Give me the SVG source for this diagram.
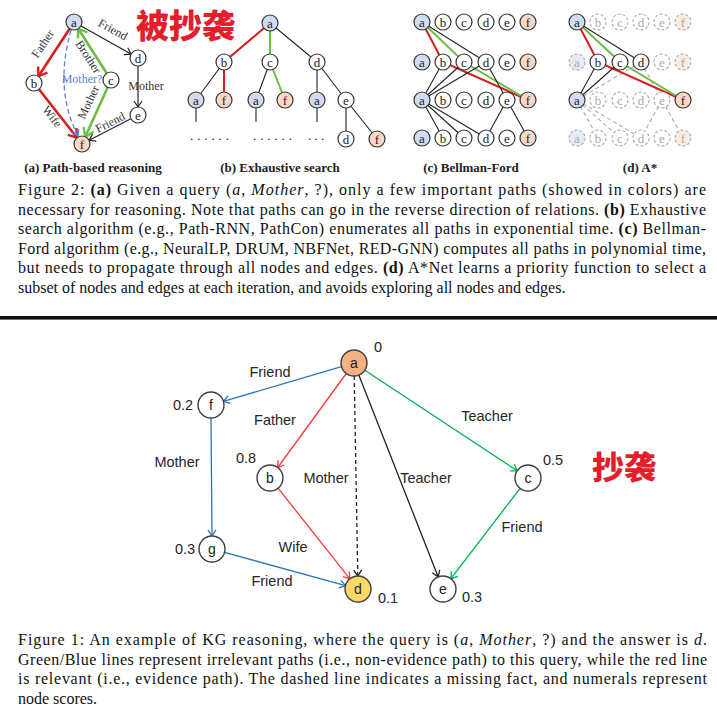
<svg xmlns="http://www.w3.org/2000/svg" width="717" height="719" viewBox="0 0 717 719">
<style>
.n{stroke:#333;stroke-width:1.2;fill:#fff}
.na{fill:#d3dbf0}
.nf{fill:#f9d9c6}
.g{stroke:#aaa;stroke-width:1.1;stroke-dasharray:3 2;fill:#fff}
.ga{fill:#e6ebf7}
.gf{fill:#fcebe0}
.lt{font-family:"Liberation Serif",serif;font-size:13px;text-anchor:middle;fill:#222}
.gt{font-family:"Liberation Serif",serif;font-size:13px;text-anchor:middle;fill:#aaa}
.el{font-family:"Liberation Serif",serif;font-size:12px;text-anchor:middle;fill:#333}
.pc{font-family:"Liberation Serif",serif;font-size:13px;font-weight:bold;text-anchor:middle;fill:#222}
.cap{font-family:"Liberation Serif",serif;font-size:16px;fill:#111}
.red{stroke:#d81e1e;stroke-width:2.6;fill:none}
.grn{stroke:#6cbd45;stroke-width:2.6;fill:none}
.blk{stroke:#222;stroke-width:1.2;fill:none}
.tr{stroke:#d81e1e;stroke-width:2;fill:none}
.tg{stroke:#6cbd45;stroke-width:2;fill:none}
.tk{stroke:#222;stroke-width:1.1;fill:none}
.td{stroke:#aaa;stroke-width:1.1;stroke-dasharray:4 3;fill:none}
.bn{stroke:#404040;stroke-width:1.4;fill:#fff}
.bt{font-family:"Liberation Sans",sans-serif;font-size:14px;text-anchor:middle;fill:#222}
.bl{font-family:"Liberation Sans",sans-serif;font-size:14.5px;text-anchor:middle;fill:#262626}
.wm{font-family:"Noto Sans CJK SC",sans-serif;font-weight:900;fill:#e41e2b;stroke:#fff;stroke-width:1.5;paint-order:stroke}
</style>
<defs>
<marker id="mR" viewBox="-10 -7 12 14" markerWidth="12" markerHeight="14" refX="0" refY="0" orient="auto" markerUnits="userSpaceOnUse"><path d="M-8,-5.5 L0,0 L-8,5.5" fill="none" stroke="#d81e1e" stroke-width="2.4"/></marker>
<marker id="mG" viewBox="-10 -7 12 14" markerWidth="12" markerHeight="14" refX="0" refY="0" orient="auto" markerUnits="userSpaceOnUse"><path d="M-8,-5.5 L0,0 L-8,5.5" fill="none" stroke="#6cbd45" stroke-width="2.4"/></marker>
<marker id="mK" viewBox="-8 -5 10 10" markerWidth="10" markerHeight="10" refX="0" refY="0" orient="auto" markerUnits="userSpaceOnUse"><path d="M-6,-4 L0,0 L-6,4" fill="none" stroke="#222" stroke-width="1.2"/></marker>
<marker id="mB" viewBox="-8 -5 10 10" markerWidth="10" markerHeight="10" refX="0" refY="0" orient="auto" markerUnits="userSpaceOnUse"><path d="M-6,-4 L0,0 L-6,4" fill="none" stroke="#5b7fd6" stroke-width="1.2"/></marker>
<marker id="bB" viewBox="-8 -5 10 10" markerWidth="10" markerHeight="10" refX="0" refY="0" orient="auto" markerUnits="userSpaceOnUse"><path d="M-6,-4 L0,0 L-6,4" fill="none" stroke="#2e75b6" stroke-width="1.3"/></marker>
<marker id="bR" viewBox="-8 -5 10 10" markerWidth="10" markerHeight="10" refX="0" refY="0" orient="auto" markerUnits="userSpaceOnUse"><path d="M-6,-4 L0,0 L-6,4" fill="none" stroke="#f03c3c" stroke-width="1.3"/></marker>
<marker id="bG" viewBox="-8 -5 10 10" markerWidth="10" markerHeight="10" refX="0" refY="0" orient="auto" markerUnits="userSpaceOnUse"><path d="M-6,-4 L0,0 L-6,4" fill="none" stroke="#00b050" stroke-width="1.3"/></marker>
<marker id="bK" viewBox="-8 -5 10 10" markerWidth="10" markerHeight="10" refX="0" refY="0" orient="auto" markerUnits="userSpaceOnUse"><path d="M-6,-4 L0,0 L-6,4" fill="none" stroke="#222" stroke-width="1.3"/></marker>
</defs>
<rect width="717" height="719" fill="#fff"/>

<!-- ===== Panel (a) ===== -->
<g id="pa-connectors">
<path class="red" d="M69.6,28.7 L38.4,76.3" marker-end="url(#mR)"/>
<path class="red" d="M39,89.3 L77,137.7" marker-end="url(#mR)"/>
<path class="grn" d="M106.7,73.3 L78.3,28.7" marker-end="url(#mG)"/>
<path class="grn" d="M107.7,87.3 L85.3,136.7" marker-end="url(#mG)"/>
<path class="blk" d="M81,25.9 L131,54.1" marker-end="url(#mK)"/>
<path class="blk" d="M138,66 L138,107" marker-end="url(#mK)"/>
<path class="blk" d="M130.9,118.7 L89.1,140.3" marker-end="url(#mK)"/>
<path d="M71,30 Q54,90 78,136" fill="none" stroke="#5b7fd6" stroke-width="1.3" stroke-dasharray="5 3" marker-end="url(#mB)"/>
<text class="el" transform="translate(46,46) rotate(-56)">Father</text>
<text class="el" transform="translate(49,119) rotate(52)">Wife</text>
<text class="el" transform="translate(85,59) rotate(57)">Brother</text>
<text class="el" transform="translate(92,104) rotate(-65)">Mother</text>
<text class="el" transform="translate(111,33) rotate(29)">Friend</text>
<text class="el" x="146" y="90" text-anchor="start">Mother</text>
<text class="el" transform="translate(112,126) rotate(-27)">Friend</text>
<text class="el" x="82" y="83" fill="#5b7fd6" style="fill:#5b7fd6">Mother?</text>
</g>
<g id="pa-a"><circle class="n na" cx="74" cy="22" r="8"/><text class="lt" x="74" y="26.5">a</text></g>
<g id="pa-b"><circle class="n" cx="34" cy="83" r="8"/><text class="lt" x="34" y="87.5">b</text></g>
<g id="pa-c"><circle class="n" cx="111" cy="80" r="8"/><text class="lt" x="111" y="84.5">c</text></g>
<g id="pa-d"><circle class="n" cx="138" cy="58" r="8"/><text class="lt" x="138" y="62.5">d</text></g>
<g id="pa-e"><circle class="n" cx="138" cy="115" r="8"/><text class="lt" x="138" y="119.5">e</text></g>
<g id="pa-f"><circle class="n nf" cx="82" cy="144" r="8"/><text class="lt" x="82" y="148.5">f</text></g>
<text class="pc" x="93" y="172">(a) Path-based reasoning</text>

<!-- ===== Panel (b) ===== -->
<g id="pb-connectors">
<path class="tr" d="M270,23 L224,62"/>
<path class="tg" d="M270,23 L270,62"/>
<path class="tk" d="M270,23 L317,62"/>
<path class="tk" d="M224,62 L196,100"/>
<path class="tr" d="M224,62 L224,100"/>
<path class="tk" d="M270,62 L256,100"/>
<path class="tg" d="M270,62 L285,100"/>
<path class="tk" d="M317,62 L317,100"/>
<path class="tk" d="M317,62 L346,100"/>
<path class="tk" d="M346,100 L346,139"/>
<path class="tk" d="M346,100 L377,139"/>
<path class="tk" d="M196,108 L196,122"/>
<path class="tk" d="M256,108 L256,122"/>
<path class="tk" d="M317,108 L317,122"/>
</g>
<g id="pb-a0"><circle class="n na" cx="270" cy="23" r="8"/><text class="lt" x="270" y="27.5">a</text></g>
<g id="pb-b"><circle class="n" cx="224" cy="62" r="8"/><text class="lt" x="224" y="66.5">b</text></g>
<g id="pb-c"><circle class="n" cx="270" cy="62" r="8"/><text class="lt" x="270" y="66.5">c</text></g>
<g id="pb-d"><circle class="n" cx="317" cy="62" r="8"/><text class="lt" x="317" y="66.5">d</text></g>
<g id="pb-a1"><circle class="n na" cx="196" cy="100" r="8"/><text class="lt" x="196" y="104.5">a</text></g>
<g id="pb-f1"><circle class="n nf" cx="224" cy="100" r="8"/><text class="lt" x="224" y="104.5">f</text></g>
<g id="pb-a2"><circle class="n na" cx="256" cy="100" r="8"/><text class="lt" x="256" y="104.5">a</text></g>
<g id="pb-f2"><circle class="n nf" cx="285" cy="100" r="8"/><text class="lt" x="285" y="104.5">f</text></g>
<g id="pb-a3"><circle class="n na" cx="317" cy="100" r="8"/><text class="lt" x="317" y="104.5">a</text></g>
<g id="pb-e"><circle class="n" cx="346" cy="100" r="8"/><text class="lt" x="346" y="104.5">e</text></g>
<g id="pb-d2"><circle class="n" cx="346" cy="139" r="8"/><text class="lt" x="346" y="143.5">d</text></g>
<g id="pb-f3"><circle class="n nf" cx="377" cy="139" r="8"/><text class="lt" x="377" y="143.5">f</text></g>
<text class="lt" x="190" y="140" text-anchor="start" letter-spacing="3.9" style="text-anchor:start">......</text>
<text class="lt" x="253" y="140" text-anchor="start" letter-spacing="3.9" style="text-anchor:start">......</text>
<text class="lt" x="308" y="140" text-anchor="start" letter-spacing="3.3" style="text-anchor:start">...</text>
<text class="pc" x="280" y="172">(b) Exhaustive search</text>

<!-- ===== Panel (c) ===== -->
<g id="pc-connectors">
<path class="tr" d="M422,22 L443,62 L528,100"/>
<path class="tg" d="M422,22 L464,62 L528,100"/>
<path class="tk" d="M422,22 L486,62"/>
<path class="tk" d="M443,62 L422,100"/>
<path class="tk" d="M464,62 L422,100"/>
<path class="tk" d="M486,62 L422,100"/>
<path class="tk" d="M486,62 L507,100"/>
<path class="tk" d="M422,100 L443,138"/>
<path class="tk" d="M422,100 L464,138"/>
<path class="tk" d="M422,100 L486,138"/>
<path class="tk" d="M507,100 L486,138"/>
<path class="tk" d="M507,100 L528,138"/>
</g>
<g id="pc-r1">
<g id="pc-r1a"><circle class="n na" cx="422" cy="22" r="8"/><text class="lt" x="422" y="26.5">a</text></g>
<g id="pc-r1b"><circle class="n" cx="443" cy="22" r="8"/><text class="lt" x="443" y="26.5">b</text></g>
<g id="pc-r1c"><circle class="n" cx="464" cy="22" r="8"/><text class="lt" x="464" y="26.5">c</text></g>
<g id="pc-r1d"><circle class="n" cx="486" cy="22" r="8"/><text class="lt" x="486" y="26.5">d</text></g>
<g id="pc-r1e"><circle class="n" cx="507" cy="22" r="8"/><text class="lt" x="507" y="26.5">e</text></g>
<g id="pc-r1f"><circle class="n nf" cx="528" cy="22" r="8"/><text class="lt" x="528" y="26.5">f</text></g>
</g>
<g id="pc-r2">
<g id="pc-r2a"><circle class="n na" cx="422" cy="62" r="8"/><text class="lt" x="422" y="66.5">a</text></g>
<g id="pc-r2b"><circle class="n" cx="443" cy="62" r="8"/><text class="lt" x="443" y="66.5">b</text></g>
<g id="pc-r2c"><circle class="n" cx="464" cy="62" r="8"/><text class="lt" x="464" y="66.5">c</text></g>
<g id="pc-r2d"><circle class="n" cx="486" cy="62" r="8"/><text class="lt" x="486" y="66.5">d</text></g>
<g id="pc-r2e"><circle class="n" cx="507" cy="62" r="8"/><text class="lt" x="507" y="66.5">e</text></g>
<g id="pc-r2f"><circle class="n nf" cx="528" cy="62" r="8"/><text class="lt" x="528" y="66.5">f</text></g>
</g>
<g id="pc-r3">
<g id="pc-r3a"><circle class="n na" cx="422" cy="100" r="8"/><text class="lt" x="422" y="104.5">a</text></g>
<g id="pc-r3b"><circle class="n" cx="443" cy="100" r="8"/><text class="lt" x="443" y="104.5">b</text></g>
<g id="pc-r3c"><circle class="n" cx="464" cy="100" r="8"/><text class="lt" x="464" y="104.5">c</text></g>
<g id="pc-r3d"><circle class="n" cx="486" cy="100" r="8"/><text class="lt" x="486" y="104.5">d</text></g>
<g id="pc-r3e"><circle class="n" cx="507" cy="100" r="8"/><text class="lt" x="507" y="104.5">e</text></g>
<g id="pc-r3f"><circle class="n nf" cx="528" cy="100" r="8"/><text class="lt" x="528" y="104.5">f</text></g>
</g>
<g id="pc-r4">
<g id="pc-r4a"><circle class="n na" cx="422" cy="138" r="8"/><text class="lt" x="422" y="142.5">a</text></g>
<g id="pc-r4b"><circle class="n" cx="443" cy="138" r="8"/><text class="lt" x="443" y="142.5">b</text></g>
<g id="pc-r4c"><circle class="n" cx="464" cy="138" r="8"/><text class="lt" x="464" y="142.5">c</text></g>
<g id="pc-r4d"><circle class="n" cx="486" cy="138" r="8"/><text class="lt" x="486" y="142.5">d</text></g>
<g id="pc-r4e"><circle class="n" cx="507" cy="138" r="8"/><text class="lt" x="507" y="142.5">e</text></g>
<g id="pc-r4f"><circle class="n nf" cx="528" cy="138" r="8"/><text class="lt" x="528" y="142.5">f</text></g>
</g>
<text class="pc" x="471" y="172">(c) Bellman-Ford</text>

<!-- ===== Panel (d) ===== -->
<g id="pd-connectors">
<path class="td" d="M641,62 L577,100"/>
<path class="td" d="M641,62 L662,100"/>
<path class="td" d="M577,100 L598,138"/>
<path class="td" d="M577,100 L620,138"/>
<path class="td" d="M577,100 L641,138"/>
<path class="td" d="M662,100 L641,138"/>
<path class="td" d="M662,100 L683,138"/>
<path class="tr" d="M577,22 L598,62 L683,100"/>
<path class="tg" d="M577,22 L620,62 L683,100"/>
<path class="tk" d="M577,22 L641,62"/>
<path class="tk" d="M598,62 L577,100"/>
<path class="tk" d="M620,62 L577,100"/>
</g>
<g id="pd-r1">
<g id="pd-r1a"><circle class="n na" cx="577" cy="22" r="8"/><text class="lt" x="577" y="26.5">a</text></g>
<g id="pd-r1b"><circle class="g" cx="598" cy="22" r="8"/><text class="gt" x="598" y="26.5">b</text></g>
<g id="pd-r1c"><circle class="g" cx="620" cy="22" r="8"/><text class="gt" x="620" y="26.5">c</text></g>
<g id="pd-r1d"><circle class="g" cx="641" cy="22" r="8"/><text class="gt" x="641" y="26.5">d</text></g>
<g id="pd-r1e"><circle class="g" cx="662" cy="22" r="8"/><text class="gt" x="662" y="26.5">e</text></g>
<g id="pd-r1f"><circle class="g gf" cx="683" cy="22" r="8"/><text class="gt" x="683" y="26.5">f</text></g>
</g>
<g id="pd-r2">
<g id="pd-r2a"><circle class="g ga" cx="577" cy="62" r="8"/><text class="gt" x="577" y="66.5">a</text></g>
<g id="pd-r2b"><circle class="n" cx="598" cy="62" r="8"/><text class="lt" x="598" y="66.5">b</text></g>
<g id="pd-r2c"><circle class="n" cx="620" cy="62" r="8"/><text class="lt" x="620" y="66.5">c</text></g>
<g id="pd-r2d"><circle class="n" cx="641" cy="62" r="8"/><text class="lt" x="641" y="66.5">d</text></g>
<g id="pd-r2e"><circle class="g" cx="662" cy="62" r="8"/><text class="gt" x="662" y="66.5">e</text></g>
<g id="pd-r2f"><circle class="g gf" cx="683" cy="62" r="8"/><text class="gt" x="683" y="66.5">f</text></g>
</g>
<g id="pd-r3">
<g id="pd-r3a"><circle class="n na" cx="577" cy="100" r="8"/><text class="lt" x="577" y="104.5">a</text></g>
<g id="pd-r3b"><circle class="g" cx="598" cy="100" r="8"/><text class="gt" x="598" y="104.5">b</text></g>
<g id="pd-r3c"><circle class="g" cx="620" cy="100" r="8"/><text class="gt" x="620" y="104.5">c</text></g>
<g id="pd-r3d"><circle class="g" cx="641" cy="100" r="8"/><text class="gt" x="641" y="104.5">d</text></g>
<g id="pd-r3e"><circle class="g" cx="662" cy="100" r="8"/><text class="gt" x="662" y="104.5">e</text></g>
<g id="pd-r3f"><circle class="n nf" cx="683" cy="100" r="8"/><text class="lt" x="683" y="104.5">f</text></g>
</g>
<g id="pd-r4">
<g id="pd-r4a"><circle class="g ga" cx="577" cy="138" r="8"/><text class="gt" x="577" y="142.5">a</text></g>
<g id="pd-r4b"><circle class="g" cx="598" cy="138" r="8"/><text class="gt" x="598" y="142.5">b</text></g>
<g id="pd-r4c"><circle class="g" cx="620" cy="138" r="8"/><text class="gt" x="620" y="142.5">c</text></g>
<g id="pd-r4d"><circle class="g" cx="641" cy="138" r="8"/><text class="gt" x="641" y="142.5">d</text></g>
<g id="pd-r4e"><circle class="g" cx="662" cy="138" r="8"/><text class="gt" x="662" y="142.5">e</text></g>
<g id="pd-r4f"><circle class="g gf" cx="683" cy="138" r="8"/><text class="gt" x="683" y="142.5">f</text></g>
</g>
<text class="pc" x="640" y="172">(d) A*</text>

<text class="wm" x="136" y="38" font-size="33">被抄袭</text>

<!-- Figure 2 caption -->
<g id="caption2">
<text class="cap" x="18" y="195" textLength="688" lengthAdjust="spacing">Figure 2: <tspan font-weight="bold">(a)</tspan> Given a query (<tspan font-style="italic">a</tspan>, <tspan font-style="italic">Mother</tspan>, ?), only a few important paths (showed in colors) are</text>
<text class="cap" x="18" y="214.5" textLength="688" lengthAdjust="spacing">necessary for reasoning. Note that paths can go in the reverse direction of relations. <tspan font-weight="bold">(b)</tspan> Exhaustive</text>
<text class="cap" x="18" y="234" textLength="688" lengthAdjust="spacing">search algorithm (e.g., Path-RNN, PathCon) enumerates all paths in exponential time. <tspan font-weight="bold">(c)</tspan> Bellman-</text>
<text class="cap" x="18" y="253.5" textLength="688" lengthAdjust="spacing">Ford algorithm (e.g., NeuralLP, DRUM, NBFNet, RED-GNN) computes all paths in polynomial time,</text>
<text class="cap" x="18" y="273" textLength="688" lengthAdjust="spacing">but needs to propagate through all nodes and edges. <tspan font-weight="bold">(d)</tspan> A*Net learns a priority function to select a</text>
<text class="cap" x="18" y="292.5">subset of nodes and edges at each iteration, and avoids exploring all nodes and edges.</text>
</g>

<rect x="0" y="316" width="717" height="3.6" fill="#111"/>

<!-- ===== Bottom diagram ===== -->
<g id="connectors">
<path d="M341.5,366.7 L223.5,401.3" stroke="#2e75b6" stroke-width="1.3" fill="none" marker-end="url(#bB)"/>
<path d="M211,418 L212,536" stroke="#2e75b6" stroke-width="1.3" fill="none" marker-end="url(#bB)"/>
<path d="M224.5,552.4 L345.5,585.6" stroke="#2e75b6" stroke-width="1.3" fill="none" marker-end="url(#bB)"/>
<path d="M346.3,373.5 L277.7,467.5" stroke="#f03c3c" stroke-width="1.3" fill="none" marker-end="url(#bR)"/>
<path d="M278.1,488.2 L349.9,578.8" stroke="#f03c3c" stroke-width="1.3" fill="none" marker-end="url(#bR)"/>
<path d="M354.2,376 L357.8,576" stroke="#222" stroke-width="1.3" stroke-dasharray="4 3" fill="none" marker-end="url(#bK)"/>
<path d="M358.8,375.1 L438.2,576.9" stroke="#222" stroke-width="1.3" fill="none" marker-end="url(#bK)"/>
<path d="M364.8,370.2 L517.2,470.8" stroke="#00b050" stroke-width="1.3" fill="none" marker-end="url(#bG)"/>
<path d="M520.1,488.3 L450.9,578.7" stroke="#00b050" stroke-width="1.3" fill="none" marker-end="url(#bG)"/>
<text class="bl" x="270" y="377">Friend</text>
<text class="bl" x="177" y="467">Mother</text>
<text class="bl" x="272" y="586">Friend</text>
<text class="bl" x="275" y="425">Father</text>
<text class="bl" x="293" y="552">Wife</text>
<text class="bl" x="326" y="483">Mother</text>
<text class="bl" x="426" y="483">Teacher</text>
<text class="bl" x="487" y="421">Teacher</text>
<text class="bl" x="522" y="532">Friend</text>
</g>
<g id="node-a"><circle class="bn" cx="354" cy="363" r="13" style="fill:#f4b183"/><text class="bt" x="354" y="368">a</text><text class="bl" x="378" y="352">0</text></g>
<g id="node-f"><circle class="bn" cx="211" cy="405" r="13"/><text class="bt" x="211" y="410">f</text><text class="bl" x="183" y="410">0.2</text></g>
<g id="node-b"><circle class="bn" cx="270" cy="478" r="13"/><text class="bt" x="270" y="483">b</text><text class="bl" x="246" y="463">0.8</text></g>
<g id="node-g"><circle class="bn" cx="212" cy="549" r="13"/><text class="bt" x="212" y="554">g</text><text class="bl" x="185" y="554">0.3</text></g>
<g id="node-d"><circle class="bn" cx="358" cy="589" r="13" style="fill:#ffd966"/><text class="bt" x="358" y="594">d</text><text class="bl" x="388" y="603">0.1</text></g>
<g id="node-e"><circle class="bn" cx="443" cy="589" r="13"/><text class="bt" x="443" y="594">e</text><text class="bl" x="472" y="602">0.3</text></g>
<g id="node-c"><circle class="bn" cx="528" cy="478" r="13"/><text class="bt" x="528" y="483">c</text><text class="bl" x="553" y="465">0.5</text></g>

<text class="wm" x="592" y="479" font-size="32">抄袭</text>

<!-- Figure 1 caption -->
<g id="caption1">
<text class="cap" x="18" y="645" textLength="689" lengthAdjust="spacing">Figure 1: An example of KG reasoning, where the query is (<tspan font-style="italic">a</tspan>, <tspan font-style="italic">Mother</tspan>, ?) and the answer is <tspan font-style="italic">d</tspan>.</text>
<text class="cap" x="18" y="664.5" textLength="689" lengthAdjust="spacing">Green/Blue lines represent irrelevant paths (i.e., non-evidence path) to this query, while the red line</text>
<text class="cap" x="18" y="684" textLength="689" lengthAdjust="spacing">is relevant (i.e., evidence path). The dashed line indicates a missing fact, and numerals represent</text>
<text class="cap" x="18" y="703.5">node scores.</text>
</g>
</svg>
